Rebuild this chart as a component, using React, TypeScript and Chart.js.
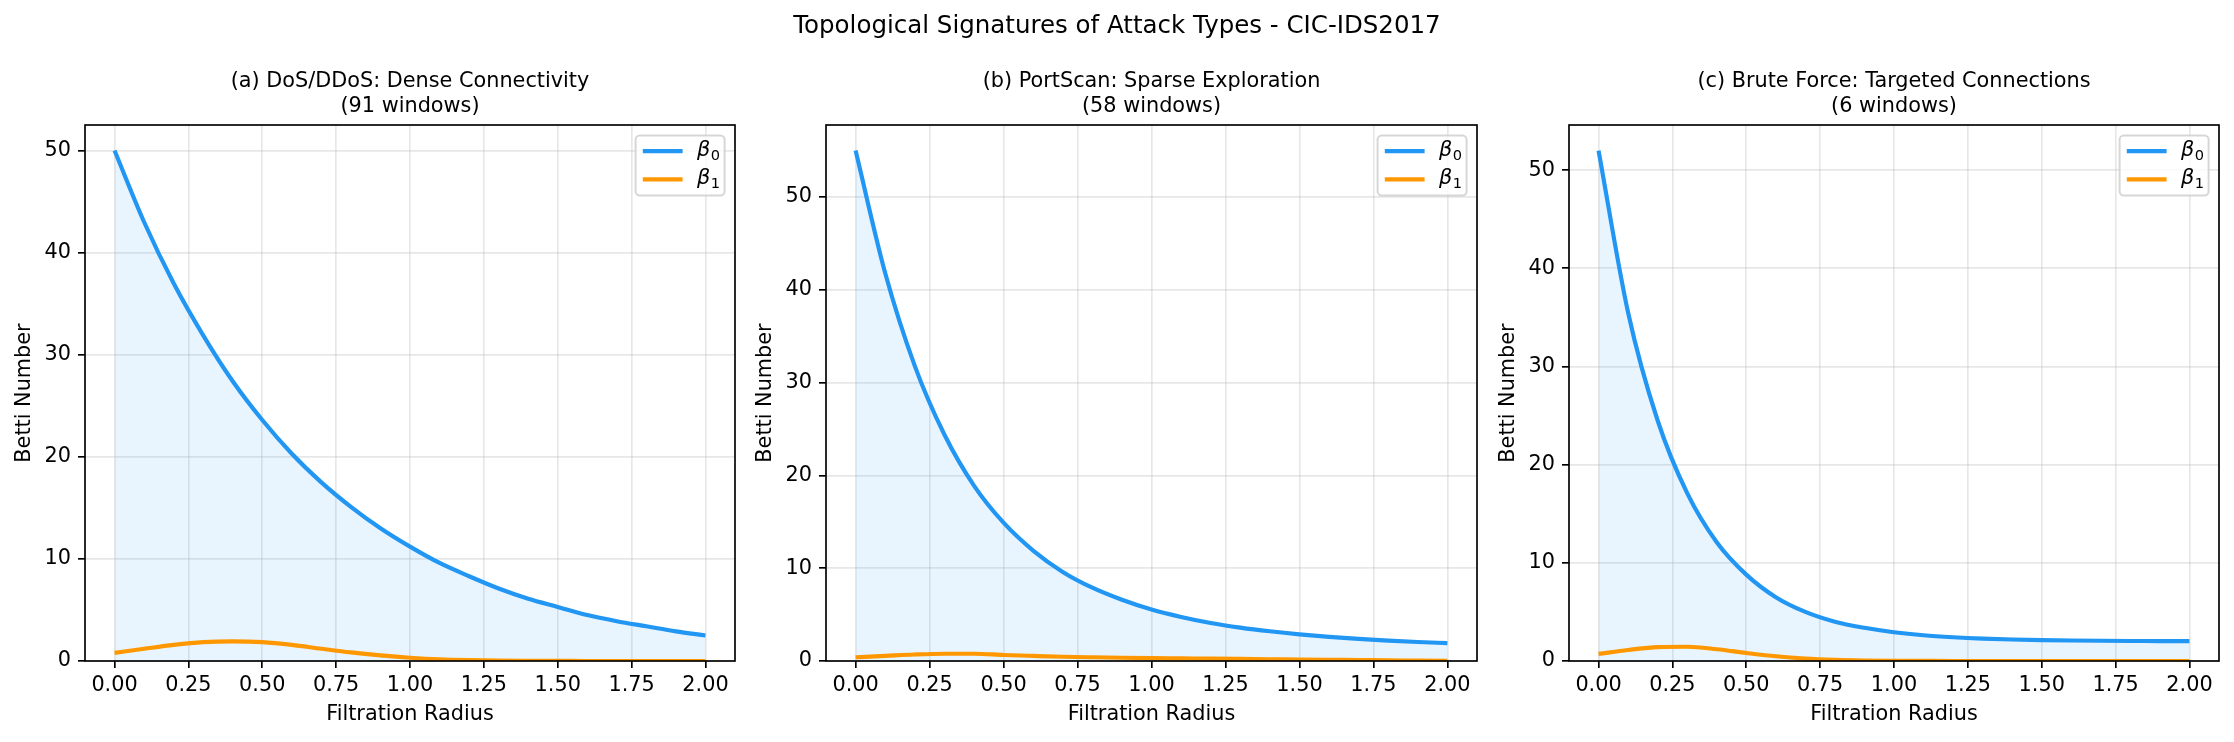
import React, { useEffect, useRef } from 'react';
import { Chart, registerables } from 'chart.js';

Chart.register(...registerables);

// ---------- data ----------
const SUPTITLE = 'Topological Signatures of Attack Types - CIC-IDS2017';

const RADIUS = [0, 0.1, 0.2, 0.3, 0.4, 0.5, 0.6, 0.7, 0.8, 0.9, 1.0, 1.1, 1.2, 1.3, 1.4, 1.5, 1.6, 1.7, 1.8, 1.9, 2.0];

const X_TICKS = [0, 0.25, 0.5, 0.75, 1.0, 1.25, 1.5, 1.75, 2.0];
const X_TICK_LABELS = ['0.00', '0.25', '0.50', '0.75', '1.00', '1.25', '1.50', '1.75', '2.00'];
const Y_TICKS = [0, 10, 20, 30, 40, 50];
const Y_TICK_LABELS = ['0', '10', '20', '30', '40', '50'];

const SERIES_LABELS = ['β₀', 'β₁'];
const X_LABEL = 'Filtration Radius';
const Y_LABEL = 'Betti Number';

const TITLE_A = ['(a) DoS/DDoS: Dense Connectivity', '(91 windows)'];
const TITLE_B = ['(b) PortScan: Sparse Exploration', '(58 windows)'];
const TITLE_C = ['(c) Brute Force: Targeted Connections', '(6 windows)'];

const DOS_B0 = [50.0, 43.0, 37.0, 31.9, 27.4, 23.6, 20.3, 17.5, 15.1, 13.0, 11.2, 9.6, 8.3, 7.1, 6.1, 5.3, 4.5, 3.9, 3.4, 2.9, 2.5];
const DOS_B1 = [0.80, 1.20, 1.58, 1.85, 1.93, 1.85, 1.58, 1.20, 0.84, 0.55, 0.32, 0.16, 0.08, 0.04, 0.02, 0.01, 0, 0, 0, 0, 0];

const PORT_B0 = [55.0, 41.8, 31.8, 24.4, 18.9, 14.9, 11.9, 9.6, 7.9, 6.6, 5.55, 4.75, 4.1, 3.6, 3.2, 2.87, 2.6, 2.38, 2.2, 2.05, 1.92];
const PORT_B1 = [0.40, 0.55, 0.70, 0.78, 0.78, 0.65, 0.55, 0.46, 0.40, 0.35, 0.31, 0.28, 0.25, 0.22, 0.19, 0.16, 0.13, 0.10, 0.07, 0.05, 0.03];

const BRUTE_B0 = [52.0, 35.5, 24.5, 17.1, 12.1, 8.8, 6.5, 5.0, 4.0, 3.38, 2.93, 2.62, 2.42, 2.28, 2.19, 2.13, 2.09, 2.06, 2.04, 2.03, 2.02];
const BRUTE_B1 = [0.72, 1.12, 1.42, 1.45, 1.20, 0.82, 0.48, 0.25, 0.12, 0.05, 0.02, 0.01, 0, 0, 0, 0, 0, 0, 0, 0, 0];

const PANEL_TITLES = [TITLE_A, TITLE_B, TITLE_C];
const PANEL_B0 = [DOS_B0, PORT_B0, BRUTE_B0];
const PANEL_B1 = [DOS_B1, PORT_B1, BRUTE_B1];
const Y_MAX = [52.5, 57.75, 54.6];

// ---------- layout / style ----------
const CHART_LEFT = [85, 826, 1569];
const CHART_WIDTH = [650, 651, 650];
const Y_AXIS_W = 85;
const FIG_H = 742;
const FONT = '"DejaVu Sans", "Liberation Sans", sans-serif';
const FS = 20.8;
const BLUE = '#2196F3';
const ORANGE = '#FF9800';
const LW = 1.67;

const mplPlugin = {
  id: 'mplFrame',
  afterDatasetsDraw(chart: any) {
    const { ctx, chartArea: a } = chart;
    ctx.save();
    // spines
    ctx.strokeStyle = '#000';
    ctx.lineWidth = LW;
    ctx.strokeRect(a.left, a.top, a.right - a.left, a.bottom - a.top);
    // legend
    const bw = 89;
    const bh = 60;
    const bx = a.right - 10.4 - bw;
    const by = a.top + 10.4;
    const r = 4.2;
    ctx.beginPath();
    ctx.moveTo(bx + r, by);
    ctx.lineTo(bx + bw - r, by);
    ctx.arcTo(bx + bw, by, bx + bw, by + r, r);
    ctx.lineTo(bx + bw, by + bh - r);
    ctx.arcTo(bx + bw, by + bh, bx + bw - r, by + bh, r);
    ctx.lineTo(bx + r, by + bh);
    ctx.arcTo(bx, by + bh, bx, by + bh - r, r);
    ctx.lineTo(bx, by + r);
    ctx.arcTo(bx, by, bx + r, by, r);
    ctx.closePath();
    ctx.fillStyle = 'rgba(255,255,255,0.8)';
    ctx.fill();
    ctx.strokeStyle = 'rgba(204,204,204,0.8)';
    ctx.lineWidth = 2;
    ctx.stroke();
    const subMap: Record<string, string> = { '₀': '0', '₁': '1', '₂': '2' };
    chart.data.datasets.forEach((ds: any, i: number) => {
      const cy = by + 15.7 + i * 28.3;
      ctx.beginPath();
      ctx.strokeStyle = ds.borderColor;
      ctx.lineWidth = 4.17;
      ctx.lineCap = 'butt';
      ctx.moveTo(bx + 7.2, cy);
      ctx.lineTo(bx + 47, cy);
      ctx.stroke();
      const label: string = ds.label;
      const base = label.slice(0, 1);
      const sub = label.slice(1).split('').map((c) => subMap[c] ?? c).join('');
      ctx.fillStyle = '#000';
      ctx.textBaseline = 'alphabetic';
      ctx.textAlign = 'left';
      ctx.font = `italic ${FS}px ${FONT}`;
      ctx.fillText(base, bx + 61.5, cy + 5);
      const w = ctx.measureText(base).width;
      ctx.font = `${14.6}px ${FONT}`;
      ctx.fillText(sub, bx + 61.5 + w + 0.5, cy + 8.4);
    });
    ctx.restore();
  },
};

function Panel({ index }: { index: number }) {
  const ref = useRef<HTMLCanvasElement | null>(null);
  const canvasW = Y_AXIS_W + CHART_WIDTH[index] + 12;

  useEffect(() => {
    const canvas = ref.current;
    if (!canvas) return;
    const b0 = PANEL_B0[index];
    const b1 = PANEL_B1[index];
    const chart = new Chart(canvas, {
      type: 'line',
      data: {
        datasets: [
          {
            label: SERIES_LABELS[0],
            data: RADIUS.map((x, i) => ({ x, y: b0[i] })),
            borderColor: BLUE,
            backgroundColor: 'rgba(33,150,243,0.1)',
            fill: 'origin',
            borderWidth: 4.17,
            pointRadius: 0,
            cubicInterpolationMode: 'monotone',
            borderJoinStyle: 'round',
            clip: 0,
            order: 1,
          },
          {
            label: SERIES_LABELS[1],
            data: RADIUS.map((x, i) => ({ x, y: b1[i] })),
            borderColor: ORANGE,
            backgroundColor: ORANGE,
            fill: false,
            borderWidth: 4.17,
            pointRadius: 0,
            cubicInterpolationMode: 'monotone',
            borderJoinStyle: 'round',
            clip: 0,
            order: 0,
          },
        ],
      } as any,
      options: {
        responsive: false,
        animation: false,
        devicePixelRatio: 1,
        events: [],
        layout: { padding: { left: 0, right: 12, top: 0, bottom: 0 } },
        plugins: {
          legend: { display: false },
          tooltip: { enabled: false },
          title: {
            display: true,
            text: PANEL_TITLES[index],
            fullSize: false,
            color: '#000',
            font: { family: FONT, size: FS, weight: 'normal', lineHeight: 1.2 },
            padding: { top: 69.2, bottom: 5.88 },
          },
        },
        scales: {
          x: {
            type: 'linear',
            min: -0.1,
            max: 2.1,
            afterBuildTicks: (axis: any) => {
              axis.ticks = X_TICKS.map((v) => ({ value: v }));
            },
            afterFit: (s: any) => {
              s.height = 81;
            },
            border: { display: false },
            grid: {
              color: 'rgba(176,176,176,0.3)',
              lineWidth: LW,
              drawTicks: true,
              tickColor: '#000',
              tickWidth: LW,
              tickLength: 7,
            },
            ticks: {
              color: '#000',
              padding: 4.8,
              autoSkip: false,
              maxRotation: 0,
              minRotation: 0,
              font: { family: FONT, size: FS },
              callback: (_v: any, i: number) => X_TICK_LABELS[i],
            },
            title: {
              display: true,
              text: X_LABEL,
              color: '#000',
              font: { family: FONT, size: FS, lineHeight: 1.2 },
              padding: { top: 0, bottom: 14.8 },
            },
          },
          y: {
            type: 'linear',
            min: 0,
            max: Y_MAX[index],
            afterBuildTicks: (axis: any) => {
              axis.ticks = Y_TICKS.map((v) => ({ value: v }));
            },
            afterFit: (s: any) => {
              s.width = Y_AXIS_W;
            },
            border: { display: false },
            grid: {
              color: 'rgba(176,176,176,0.3)',
              lineWidth: LW,
              drawTicks: true,
              tickColor: '#000',
              tickWidth: LW,
              tickLength: 7,
            },
            ticks: {
              color: '#000',
              padding: 7,
              font: { family: FONT, size: FS },
              callback: (_v: any, i: number) => Y_TICK_LABELS[i],
            },
            title: {
              display: true,
              text: Y_LABEL,
              color: '#000',
              font: { family: FONT, size: FS, lineHeight: 1.2 },
              padding: { top: 12.5, bottom: 0 },
            },
          },
        },
      } as any,
      plugins: [mplPlugin],
    });
    return () => chart.destroy();
  }, [index]);

  return (
    <canvas
      ref={ref}
      width={canvasW}
      height={FIG_H}
      style={{
        position: 'absolute',
        left: CHART_LEFT[index] - Y_AXIS_W,
        top: 0,
        width: canvasW,
        height: FIG_H,
        display: 'block',
      }}
    />
  );
}

export default function App() {
  return (
    <div
      style={{
        position: 'fixed',
        left: 0,
        top: 0,
        width: 2234,
        height: FIG_H,
        overflow: 'hidden',
        background: '#fff',
      }}
    >
      {[0, 1, 2].map((i) => (
        <Panel key={i} index={i} />
      ))}
      <div
        style={{
          position: 'absolute',
          left: 0,
          top: 9.5,
          width: 2234,
          textAlign: 'center',
          fontFamily: FONT,
          fontSize: 24.5,
          lineHeight: '30px',
          color: '#000',
          pointerEvents: 'none',
        }}
      >
        {SUPTITLE}
      </div>
    </div>
  );
}
